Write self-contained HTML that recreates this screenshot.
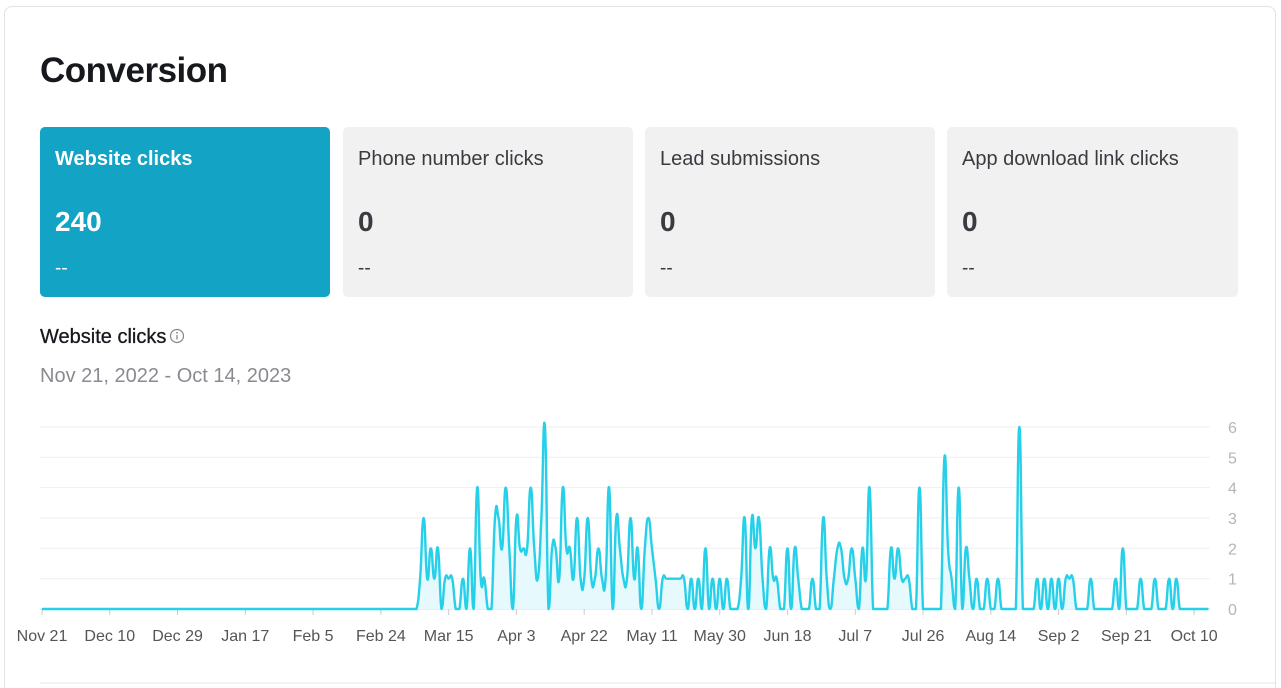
<!DOCTYPE html>
<html style="width:1281px;height:688px;overflow:hidden"><head><meta charset="utf-8"><style>
html,body{overflow:hidden}
body{margin:0;width:1281px;height:688px;background:#fff;font-family:"Liberation Sans",sans-serif;overflow:hidden;position:relative}
.card{position:absolute;left:4px;top:6px;width:1272px;height:700px;border:1px solid #e3e3e6;border-radius:8px;box-sizing:border-box}
h1{position:absolute;left:40px;top:51px;margin:0;font-size:35px;font-weight:bold;color:#16181d;letter-spacing:-0.5px}
.tile{position:absolute;top:127px;height:170px;border-radius:5px;background:#f1f1f2;color:#3a3b40}
.tile .t{position:absolute;left:15px;top:21px;font-size:20px}
.tile .v{position:absolute;left:15px;top:79px;font-size:28px;font-weight:bold}
.tile .d{position:absolute;left:15px;top:131px;font-size:19px}
.tile.on{background:#12a3c5;color:#fff}
.tile.on .t{font-weight:bold}
#st{position:absolute;left:40px;top:326px;font-size:20px;color:#16181d;-webkit-text-stroke:0.3px #16181d}
#dr{position:absolute;left:40px;top:365px;font-size:20px;color:#8a8b90}
svg{position:absolute;left:0;top:0}
</style></head><body>
<div class="card"></div>
<h1>Conversion</h1>
<div class="tile on" style="left:40px;width:290px"><div class="t">Website clicks</div><div class="v">240</div><div class="d">--</div></div>
<div class="tile" style="left:343px;width:290px"><div class="t">Phone number clicks</div><div class="v">0</div><div class="d">--</div></div>
<div class="tile" style="left:645px;width:290px"><div class="t">Lead submissions</div><div class="v">0</div><div class="d">--</div></div>
<div class="tile" style="left:947px;width:291px"><div class="t">App download link clicks</div><div class="v">0</div><div class="d">--</div></div>
<div id="st">Website clicks<svg style="position:relative;left:3px;top:1px" width="16" height="16"><circle cx="8" cy="8" r="6.5" fill="none" stroke="#888" stroke-width="1.2"/><line x1="8" y1="7" x2="8" y2="11.5" stroke="#888" stroke-width="1.3"/><circle cx="8" cy="4.8" r="0.9" fill="#888"/></svg></div>
<div id="dr">Nov 21, 2022 - Oct 14, 2023</div>
<svg id="chart" width="1281" height="688"></svg>
<script>
const xLabels=["Nov 21","Dec 10","Dec 29","Jan 17","Feb 5","Feb 24","Mar 15","Apr 3","Apr 22","May 11","May 30","Jun 18","Jul 7","Jul 26","Aug 14","Sep 2","Sep 21","Oct 10"];
const xLabelDays=[0,19,38,57,76,95,114,133,152,171,190,209,228,247,266,285,304,323];
const yTicks=[0,1,2,3,4,5,6];
const clicks=[
0,0,0,0,0,0,0,0,0,0,0,0,0,0,0,0,0,0,0,0,0,0,0,0,0,0,0,0,0,0,0,0,0,0,0,0,0,0,0,0,
0,0,0,0,0,0,0,0,0,0,0,0,0,0,0,0,0,0,0,0,0,0,0,0,0,0,0,0,0,0,0,0,0,0,0,0,0,0,0,0,
0,0,0,0,0,0,0,0,0,0,0,0,0,0,0,0,0,0,0,0,0,0,0,0,
0,0,1,3,1,2,1,2,0,1,1,1,0,0,1,0,2,0,4,1,1,0,0,3,3,2,4,2,0,3,2,2,2,4,2,1,3,6,0,2,
2,1,4,2,2,1,3,1,1,3,1,1,2,1,1,4,0,3,2,1,1,3,1,2,0,2,3,2,1,0,1,1,1,1,1,1,1,0,1,0,
1,0,2,0,1,0,1,0,1,0,0,0,1,3,0,3,2,3,1,0,2,1,1,0,0,2,0,2,1,0,0,0,1,0,0,3,1,0,1,2,
2,1,1,2,1,0,2,1,4,0,0,0,0,0,2,1,2,1,1,1,0,0,4,0,0,0,0,0,0,5,2,1,0,4,0,2,1,0,1,0,
0,1,0,0,1,0,0,0,0,0,6,0,0,0,0,1,0,1,0,1,0,1,0,1,1,1,0,0,0,0,1,0,0,0,0,0,0,1,0,2,
0,0,0,0,1,0,0,0,1,0,0,0,1,0,1,0,0,0,0,0,0,0,0,0];
const NS="http://www.w3.org/2000/svg";
const svg=document.getElementById('chart');
const X0=42,DX=3.567,Y0=609,DY=30.35;
const xs=d=>X0+d*DX, ys=v=>Y0-v*DY;
function mk(t,a){const e=document.createElementNS(NS,t);for(const k in a)e.setAttribute(k,a[k]);svg.appendChild(e);return e;}
yTicks.forEach(v=>{
  const l=mk('line',{x1:40,x2:1210,y1:ys(v),y2:ys(v),stroke:v?'#efeff3':'#d8d8dc','stroke-width':1});
  
  
  const t=mk('text',{x:1228,y:ys(v)+6,fill:'#b5b5b8','font-size':16,'font-family':'Liberation Sans'});t.textContent=v;
  
  
});
xLabels.forEach((s,i)=>{
  const x=xs(xLabelDays[i]);
  const tk=mk('line',{x1:x,x2:x,y1:609,y2:615,stroke:'#ccc'});
  
  
  const t=mk('text',{x:x,y:641,fill:'#555','font-size':16,'text-anchor':'middle','font-family':'Liberation Sans'});t.textContent=s;
  
  
});
const pts=clicks.map((v,i)=>[xs(i),ys(v)]);
let d='M'+pts[0][0]+','+pts[0][1];
const k=0.25;
for(let i=0;i<pts.length-1;i++){
  const p0=pts[Math.max(0,i-1)],p1=pts[i],p2=pts[i+1],p3=pts[Math.min(pts.length-1,i+2)];
  const c1=[p1[0]+(p2[0]-p0[0])*k,p1[1]+(p2[1]-p0[1])*k];
  const c2=[p2[0]-(p3[0]-p1[0])*k,p2[1]-(p3[1]-p1[1])*k];
  d+=`C${c1[0]},${Math.min(Y0,c1[1])},${c2[0]},${Math.min(Y0,c2[1])},${p2[0]},${p2[1]}`;
}
const area=mk('path',{d:d+`L${pts[pts.length-1][0]},${Y0}L${pts[0][0]},${Y0}Z`,fill:'#e6f9fc'});


const line=mk('path',{d:d,fill:'none',stroke:'#25d0e8','stroke-width':2.4,'stroke-linejoin':'round'});


const bl=mk('line',{x1:40,x2:1275,y1:683,y2:683,stroke:'#e5e5e8'});


</script>
</body></html>
